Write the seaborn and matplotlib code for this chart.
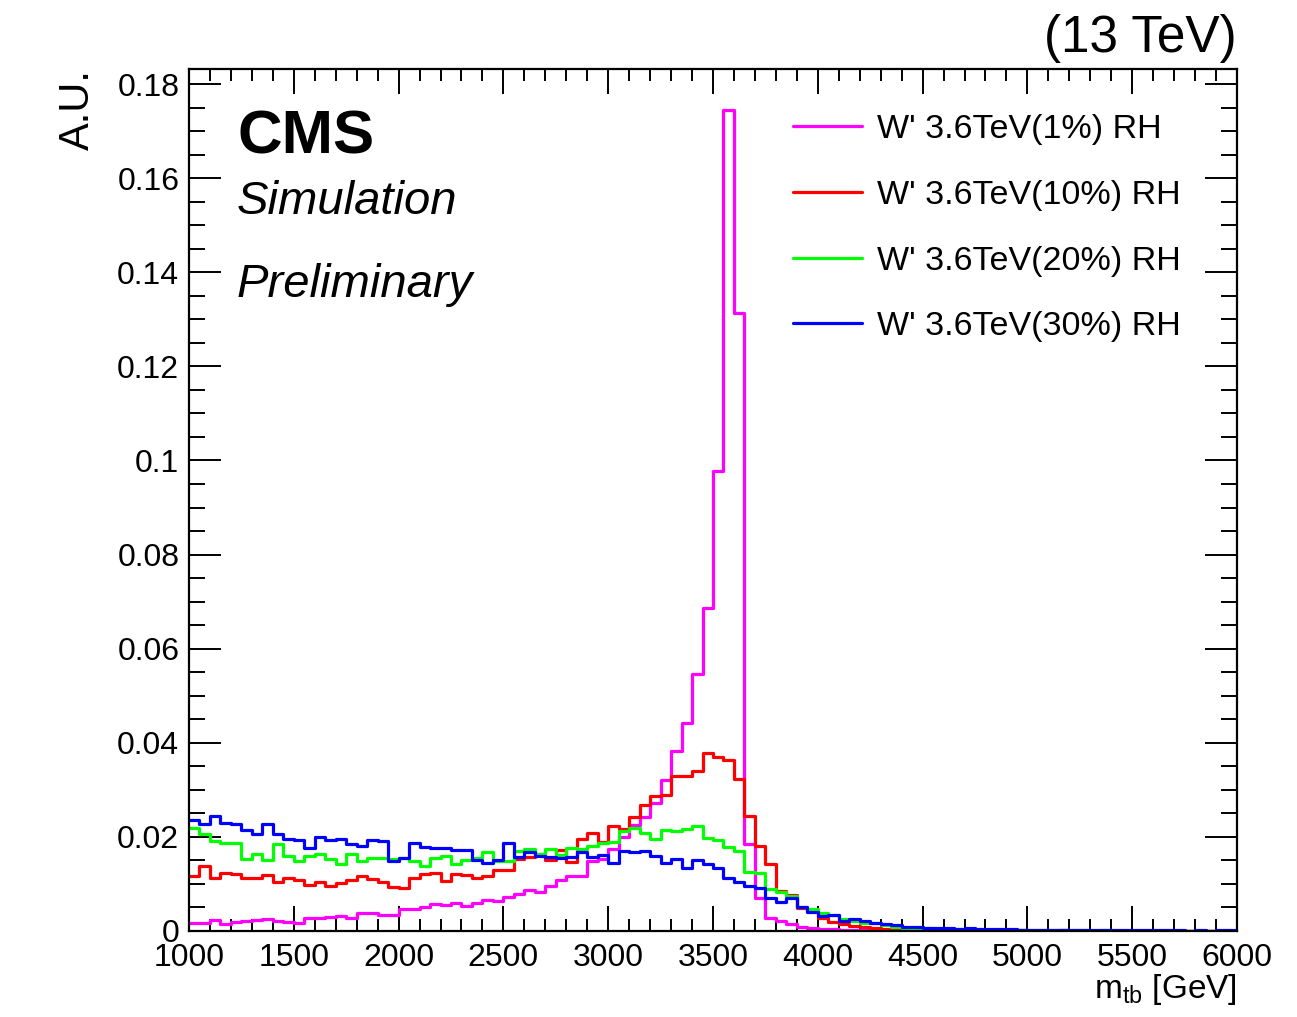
import numpy as np
import pandas as pd
import matplotlib
matplotlib.use("Agg")
import matplotlib.pyplot as plt
from matplotlib.lines import Line2D
from matplotlib.ticker import MultipleLocator, FuncFormatter
import seaborn as sns

# ---------------- data ----------------
bin_edges = list(range(1000, 6001, 50))
bin_centers = [e + 25 for e in bin_edges[:-1]]

w1 = [0.0018, 0.0018, 0.0023, 0.0014, 0.0020, 0.0021, 0.0023, 0.0025, 0.0021, 0.0020,
      0.0018, 0.0028, 0.0027, 0.0030, 0.0032, 0.0028, 0.0039, 0.0039, 0.0035, 0.0035,
      0.0046, 0.0046, 0.0050, 0.0057, 0.0055, 0.0060, 0.0054, 0.0060, 0.0065, 0.0064,
      0.0072, 0.0079, 0.0087, 0.0083, 0.0096, 0.0109, 0.0116, 0.0116, 0.0149, 0.0152,
      0.0174, 0.0199, 0.0225, 0.0243, 0.0271, 0.0321, 0.0383, 0.0443, 0.0547, 0.0686,
      0.0977, 0.1745, 0.1313, 0.0184, 0.0070, 0.0027, 0.0021, 0.0014, 0.0008, 0.0006,
      0.0005, 0.0004, 0.0003, 0.0003, 0.0003, 0.0002, 0.0003, 0.0002, 0.0002, 0.0002,
      0.0002, 0.0002, 0.0002, 0.0001, 0.0002, 0.0001, 0.0001, 0.0001, 0.0001, 0.0001,
      0.0001, 0.0001, 0.0001, 0.0001, 0.0001, 0.0001, 0.0001, 0.0001, 0.0001, 0.0001,
      0.0001, 0.0001, 0.0001, 0.0001, 0.0001, 0.0001, 0.0001, 0.0001, 0.0001, 0.0001]

w10 = [0.0117, 0.0138, 0.0112, 0.0123, 0.0121, 0.0113, 0.0113, 0.0119, 0.0105, 0.0112,
       0.0108, 0.0098, 0.0105, 0.0096, 0.0103, 0.0108, 0.0117, 0.0110, 0.0105, 0.0094,
       0.0091, 0.0112, 0.0121, 0.0124, 0.0106, 0.0122, 0.0119, 0.0113, 0.0117, 0.0129,
       0.0129, 0.0152, 0.0157, 0.0163, 0.0150, 0.0172, 0.0147, 0.0195, 0.0209, 0.0190,
       0.0223, 0.0216, 0.0243, 0.0268, 0.0287, 0.0290, 0.0330, 0.0330, 0.0339, 0.0379,
       0.0370, 0.0364, 0.0323, 0.0245, 0.0181, 0.0143, 0.0085, 0.0077, 0.0048, 0.0043,
       0.0028, 0.0020, 0.0014, 0.0010, 0.0009, 0.0006, 0.0005, 0.0004, 0.0004, 0.0003,
       0.0003, 0.0003, 0.0002, 0.0002, 0.0002, 0.0002, 0.0002, 0.0002, 0.0001, 0.0002,
       0.0001, 0.0001, 0.0001, 0.0002, 0.0001, 0.0001, 0.0001, 0.0001, 0.0001, 0.0001,
       0.0001, 0.0001, 0.0001, 0.0001, 0.0001, 0.0001, 0.0001, 0.0001, 0.0001, 0.0001]

w20 = [0.0218, 0.0206, 0.0191, 0.0186, 0.0186, 0.0152, 0.0163, 0.0150, 0.0184, 0.0160,
       0.0149, 0.0160, 0.0163, 0.0152, 0.0142, 0.0163, 0.0149, 0.0155, 0.0155, 0.0152,
       0.0156, 0.0148, 0.0138, 0.0156, 0.0160, 0.0142, 0.0151, 0.0155, 0.0168, 0.0149,
       0.0148, 0.0170, 0.0174, 0.0163, 0.0174, 0.0162, 0.0177, 0.0174, 0.0181, 0.0188,
       0.0190, 0.0213, 0.0218, 0.0209, 0.0195, 0.0214, 0.0213, 0.0216, 0.0223, 0.0197,
       0.0193, 0.0179, 0.0170, 0.0126, 0.0124, 0.0089, 0.0082, 0.0074, 0.0051, 0.0046,
       0.0039, 0.0033, 0.0025, 0.0021, 0.0018, 0.0016, 0.0013, 0.0009, 0.0007, 0.0006,
       0.0006, 0.0005, 0.0005, 0.0004, 0.0004, 0.0003, 0.0003, 0.0003, 0.0003, 0.0002,
       0.0002, 0.0002, 0.0002, 0.0002, 0.0002, 0.0002, 0.0001, 0.0002, 0.0001, 0.0001,
       0.0001, 0.0001, 0.0001, 0.0001, 0.0001, 0.0001, 0.0001, 0.0001, 0.0001, 0.0001]

w30 = [0.0235, 0.0228, 0.0245, 0.0230, 0.0227, 0.0214, 0.0206, 0.0228, 0.0206, 0.0196,
       0.0193, 0.0177, 0.0199, 0.0193, 0.0196, 0.0184, 0.0181, 0.0193, 0.0191, 0.0148,
       0.0156, 0.0188, 0.0179, 0.0177, 0.0177, 0.0172, 0.0172, 0.0150, 0.0145, 0.0150,
       0.0186, 0.0157, 0.0167, 0.0160, 0.0157, 0.0156, 0.0157, 0.0168, 0.0157, 0.0162,
       0.0145, 0.0170, 0.0167, 0.0169, 0.0160, 0.0145, 0.0153, 0.0133, 0.0150, 0.0143,
       0.0133, 0.0113, 0.0104, 0.0096, 0.0091, 0.0070, 0.0062, 0.0071, 0.0050, 0.0041,
       0.0032, 0.0034, 0.0022, 0.0025, 0.0021, 0.0018, 0.0014, 0.0012, 0.0009, 0.0008,
       0.0006, 0.0006, 0.0006, 0.0005, 0.0006, 0.0005, 0.0004, 0.0004, 0.0004, 0.0003,
       0.0003, 0.0003, 0.0003, 0.0003, 0.0002, 0.0003, 0.0002, 0.0002, 0.0002, 0.0002,
       0.0002, 0.0002, 0.0002, 0.0002, 0.0002, 0.0001, 0.0002, 0.0001, 0.0002, 0.0002]

labels = ["W' 3.6TeV(1%) RH", "W' 3.6TeV(10%) RH", "W' 3.6TeV(20%) RH", "W' 3.6TeV(30%) RH"]
colors = ["#FF00FF", "#FF0000", "#00FF00", "#0000FF"]
series = [w1, w10, w20, w30]

# ---------------- style ----------------
sns.set_style("ticks")
plt.rcParams['font.family'] = ['Liberation Sans', 'DejaVu Sans']
plt.rcParams['mathtext.fontset'] = 'custom'
plt.rcParams['mathtext.rm'] = 'Liberation Sans'
plt.rcParams['mathtext.it'] = 'Liberation Sans:italic'
plt.rcParams['mathtext.default'] = 'regular'
plt.rcParams['text.color'] = 'black'
plt.rcParams['axes.labelcolor'] = 'black'
plt.rcParams['xtick.color'] = 'black'
plt.rcParams['ytick.color'] = 'black'

W, H = 1297, 1017
fig = plt.figure(figsize=(W / 100, H / 100), dpi=100)
ax = fig.add_axes([189 / W, 1 - 931 / H, (1237 - 189) / W, (931 - 69) / H])

for lab, col, w in zip(labels, colors, series):
    df = pd.DataFrame({"mass": bin_centers, "weight": w})
    sns.histplot(data=df, x="mass", weights="weight", bins=bin_edges,
                 element="step", fill=False, color=col, linewidth=2.3, ax=ax)

ax.set_xlim(1000, 6000)
ax.set_ylim(0, 0.1832)

ax.xaxis.set_major_locator(MultipleLocator(500))
ax.xaxis.set_minor_locator(MultipleLocator(100))
ax.yaxis.set_major_locator(MultipleLocator(0.02))
ax.yaxis.set_minor_locator(MultipleLocator(0.005))


def yfmt(v, pos):
    if abs(v) < 1e-9:
        return "0"
    s = f"{v:.2f}"
    if s.endswith("0"):
        s = s[:-1]
    return s


ax.yaxis.set_major_formatter(FuncFormatter(yfmt))

ax.tick_params(axis='both', which='both', direction='in', top=True, right=True,
               width=1.4, colors='black', labelsize=23)
ax.tick_params(axis='x', which='major', length=18, pad=9)
ax.tick_params(axis='x', which='minor', length=8.5)
ax.tick_params(axis='y', which='major', length=23, pad=7)
ax.tick_params(axis='y', which='minor', length=11.5)
for sp in ax.spines.values():
    sp.set_linewidth(1.6)
    sp.set_color('black')

ax.set_xlabel(r"m$_{tb}$ [GeV]", fontsize=24, loc='right', labelpad=-1)
ax.set_ylabel("A.U.", fontsize=30, loc='top', labelpad=14)

# texts
fig.text(237 / W, 1 - 153 / H, "CMS", fontsize=44.5, fontweight='bold',
         ha='left', va='baseline')
fig.text(237 / W, 1 - 214 / H, "Simulation", fontsize=34, fontstyle='italic',
         ha='left', va='baseline')
fig.text(237 / W, 1 - 297 / H, "Preliminary", fontsize=34, fontstyle='italic',
         ha='left', va='baseline')
fig.text(1237 / W, 1 - 52 / H, "(13 TeV)", fontsize=37, ha='right', va='baseline')

handles = [Line2D([0], [0], color=c, lw=2.3) for c in colors]
ax.legend(handles, labels, loc='upper left', bbox_to_anchor=(0.5763, 0.9475),
          frameon=False, fontsize=24.5, handlelength=2.03, handletextpad=0.45,
          labelspacing=1.02, borderaxespad=0, borderpad=0)

fig.savefig("out.png", dpi=100)
